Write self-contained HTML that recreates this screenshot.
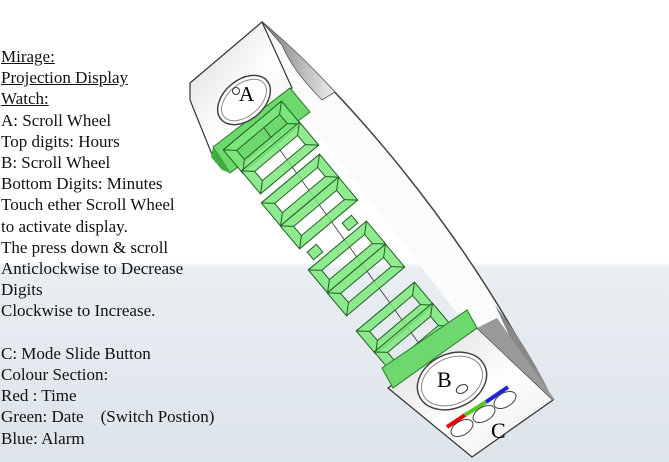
<!DOCTYPE html>
<html><head><meta charset="utf-8"><style>
body{margin:0;width:669px;height:462px;overflow:hidden;position:relative;background:linear-gradient(#fff 0,#fff 262px,#e9eef2 268px,#dde4ea 462px);font-family:"Liberation Serif",serif;}
.t{position:absolute;left:1px;top:46px;font-size:17px;line-height:21.2px;color:#111;white-space:pre;}
svg{position:absolute;left:0;top:0}
</style></head><body>
<svg width="669" height="462" viewBox="0 0 669 462">
<defs>
<linearGradient id="g2" x1="0" y1="0" x2="1" y2="1"><stop offset="0" stop-color="#d8d8d8"/><stop offset="0.55" stop-color="#fff"/><stop offset="1" stop-color="#e8e8e8"/></linearGradient>
<linearGradient id="gd" x1="0" y1="0" x2="1" y2="0"><stop offset="0" stop-color="#777"/><stop offset="1" stop-color="#eee"/></linearGradient>
<g id="box"><path d="M-38,-15 H38 V15 H-38Z M-28,-6 V6 H28 V-6Z" fill-rule="evenodd"/><path d="M-38,-15 L-28,-6 M38,-15 L28,-6 M38,15 L28,6 M-38,15 L-28,6" fill="none"/></g>
</defs>
<!-- ring band -->
<path d="M262,22 C340,90 460,220 548,395 L555,402 L540,400 L470,330 L300,110 L290,80 Z" fill="#fbfbfb" stroke="none"/>
<path d="M262,22 C340,90 460,220 548,395" fill="none" stroke="#444" stroke-width="1.5"/>
<path d="M262,22 C290,45 310,65 335,92 L322,100 Q292,70 282,45 Z" fill="url(#gd)" stroke="#555" stroke-width="0.8"/>
<path d="M495,305 Q530,350 553,400 L540,395 Q520,360 495,305Z" fill="#888"/>
<!-- top block -->
<polygon points="190,83 262,22 292,88 213,157 190,100" fill="url(#g2)" stroke="#333" stroke-width="1.2"/>
<polygon points="213,147 290,88 310,112 230,173" fill="#6dd86d" stroke="#2a7a2a" stroke-width="1"/>
<polygon points="213,147 230,173 222,170 211,157" fill="#3fae3f"/>
<ellipse cx="244" cy="100" rx="30" ry="20" transform="rotate(-40 244 100)" fill="#fff" stroke="#444" stroke-width="1.5"/>
<ellipse cx="244" cy="100" rx="26" ry="16" transform="rotate(-40 244 100)" fill="none" stroke="#888" stroke-width="1"/>
<circle cx="236" cy="91" r="3.5" fill="none" stroke="#333"/>
<text x="239" y="101" font-size="21" font-family="Liberation Serif">A</text>
<!-- center line -->
<line x1="262" y1="125" x2="420" y2="345" stroke="#333" stroke-width="0.8"/>
<!-- digits -->
<g fill="#7de87d" fill-opacity="0.85" stroke="#1f5f1f" stroke-width="1">
<use href="#box" transform="translate(262,137) rotate(-40)"/>
<use href="#box" transform="translate(280,158) rotate(-40)"/>
<use href="#box" transform="translate(300,190) rotate(-40)"/>
<use href="#box" transform="translate(319,213) rotate(-40)"/>
<use href="#box" transform="translate(347,257) rotate(-40)"/>
<use href="#box" transform="translate(366,280) rotate(-40)"/>
<use href="#box" transform="translate(395,318) rotate(-40)"/>
<use href="#box" transform="translate(413,339) rotate(-40)"/>
<rect x="-6" y="-5" width="12" height="10" transform="translate(315,252) rotate(-40)"/>
<rect x="-6" y="-5" width="12" height="10" transform="translate(350,223) rotate(-40)"/>
</g>
<!-- bottom block -->
<polygon points="388,388 477,328 553,400 472,457" fill="url(#g2)" stroke="#333" stroke-width="1.2"/>
<polygon points="553,400 477,328 497,318 555,400" fill="#999"/>
<polygon points="382,368 467,310 477,328 393,388" fill="#6dd86d" stroke="#2a7a2a"/>
<ellipse cx="452" cy="381" rx="36" ry="27" transform="rotate(-25 452 381)" fill="#fff" stroke="#444" stroke-width="1.5"/>
<ellipse cx="452" cy="381" rx="32" ry="23" transform="rotate(-25 452 381)" fill="none" stroke="#888"/>
<ellipse cx="462" cy="389" rx="6" ry="4" transform="rotate(-25 462 389)" fill="none" stroke="#333"/>
<text x="437" y="387" font-size="22" font-family="Liberation Serif">B</text>
<polyline points="447,427 465,415" stroke="#e00" stroke-width="4"/>
<polyline points="465,415 486,402" stroke="#5c2" stroke-width="4"/>
<polyline points="486,402 508,387" stroke="#22d" stroke-width="4"/>
<g fill="#fff" stroke="#444">
<ellipse cx="462" cy="428" rx="12" ry="7" transform="rotate(-30 462 428)"/>
<ellipse cx="484" cy="414" rx="12" ry="7" transform="rotate(-30 484 414)"/>
<ellipse cx="505" cy="400" rx="12" ry="7" transform="rotate(-30 505 400)"/>
</g>
<text x="491" y="438" font-size="22" font-family="Liberation Serif">C</text>
</svg>
<div class="t"><u>Mirage:</u>
<u>Projection Display</u>
<u>Watch:</u>
A: Scroll Wheel
Top digits: Hours
B: Scroll Wheel
Bottom Digits: Minutes
Touch ether Scroll Wheel
to activate display.
The press down &amp; scroll
Anticlockwise to Decrease
Digits
Clockwise to Increase.

C: Mode Slide Button
Colour Section:
Red : Time
Green: Date    (Switch Postion)
Blue: Alarm</div>
</body></html>
